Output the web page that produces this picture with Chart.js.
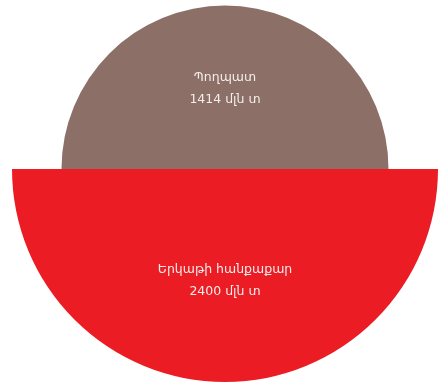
<!DOCTYPE html>
<html>
<head>
<meta charset="utf-8">
<script src="https://cdn.jsdelivr.net/npm/chart.js@4.4.0/dist/chart.umd.min.js"></script>
<style>
  html, body { margin: 0; padding: 0; background: #fff; overflow: hidden; width: 442px; height: 384px; }
  #wrap { position: absolute; left: 0; top: -56px; width: 450px; height: 450px; }
</style>
</head>
<body>
<div id="wrap"><canvas id="chart"></canvas></div>
<script>
// data
var names = ["Պողպատ", "Երկաթի հանքաքար"];
var amounts = [1414, 2400];
var unit = "մլն տ";
var colors = ["#8c6f67", "#ec1c24"];

// radius ~ sqrt(value) so the half-circle areas follow the amounts
var radii = amounts.map(function (v) { return Math.sqrt(v); });

var labelPlugin = {
  id: 'sliceLabels',
  afterDatasetsDraw: function (chart) {
    var ctx = chart.ctx;
    var meta = chart.getDatasetMeta(0);
    ctx.save();
    ctx.fillStyle = "#f3ecea";
    ctx.font = "12.5px 'DejaVu Sans', sans-serif";
    ctx.textAlign = "center";
    ctx.textBaseline = "middle";
    meta.data.forEach(function (arc, i) {
      var p = arc.getCenterPoint();
      var dy = i == 0 ? 0 : 4;
      ctx.fillText(names[i], p.x, p.y - 10 + dy);
      ctx.fillText(amounts[i] + " " + unit, p.x, p.y + 12 + dy);
    });
    ctx.restore();
  }
};

new Chart(document.getElementById("chart").getContext("2d"), {
  type: 'polarArea',
  data: {
    labels: names,
    datasets: [{
      data: radii,
      backgroundColor: colors,
      borderWidth: 0,
      clip: false
    }]
  },
  options: {
    responsive: true,
    maintainAspectRatio: false,
    animation: false,
    layout: { padding: 12 },
    plugins: {
      legend: { display: false },
      tooltip: { enabled: false }
    },
    scales: {
      r: {
        display: false,
        startAngle: -90,
        min: 0,
        max: Math.max.apply(null, radii)
      }
    }
  },
  plugins: [labelPlugin]
});
</script>
</body>
</html>
